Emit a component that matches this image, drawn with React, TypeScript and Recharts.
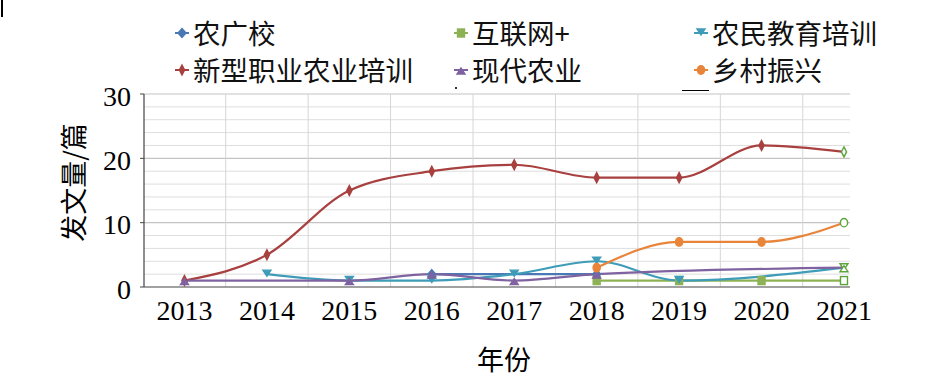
import React from 'react'
import {
  LineChart,
  Line,
  XAxis,
  YAxis,
  ReferenceLine,
} from 'recharts'

// 年份
const YEARS = ['2013', '2014', '2015', '2016', '2017', '2018', '2019', '2020', '2021']

// 各主题发文量（篇），null 表示该年无数据
const NONGGUANGXIAO = [null, null, null, 2, null, 2, null, null, null]
const HULIANWANG = [null, null, null, null, null, 1, 1, 1, 1]
const NONGMIN_PEIXUN = [null, 2, 1, 1, 2, 4, 1, null, 3]
const XINXING_PEIXUN = [1, 5, 15, 18, 19, 17, 17, 22, 21]
const XIANDAI_NONGYE = [1, null, 1, 2, 1, 2, null, null, 3]
const XIANGCUN_ZHENXING = [null, null, null, null, null, 3, 7, 7, 10]

const Y_TICKS = [0, 10, 20, 30]
const Y_MINOR = [2, 4, 6, 8, 12, 14, 16, 18, 22, 24, 26, 28]

const SERIES = [
  { key: 'ngx', name: '农广校', color: '#4a78b5', shape: 'diamond', values: NONGGUANGXIAO },
  { key: 'hlw', name: '互联网+', color: '#8db255', shape: 'square', values: HULIANWANG },
  { key: 'nmpx', name: '农民教育培训', color: '#3e9cb8', shape: 'triDown', values: NONGMIN_PEIXUN },
  { key: 'xxpx', name: '新型职业农业培训', color: '#a8403f', shape: 'thinDiamond', values: XINXING_PEIXUN },
  { key: 'xdny', name: '现代农业', color: '#7f62a0', shape: 'triUp', values: XIANDAI_NONGYE },
  { key: 'xczx', name: '乡村振兴', color: '#e8853a', shape: 'circle', values: XIANGCUN_ZHENXING },
]

const data = YEARS.map((year, i) => {
  const row: Record<string, any> = { idx: i, year }
  SERIES.forEach((s) => {
    row[s.key] = s.values[i]
  })
  return row
})

const X_TICKS = YEARS.map((_, i) => i)
// 年份之间的竖向网格
const X_GRID = YEARS.slice(1).map((_, i) => i + 0.5)

const NUM_FONT = '"Liberation Serif", "Times New Roman", serif'
const CJK_FONT = '"Noto Sans CJK SC", "Noto Sans", sans-serif'
const END_GREEN = '#5ba33b'

function Marker({ shape, cx, cy, fill, stroke }: any) {
  const sw = 1.4
  switch (shape) {
    case 'diamond':
      return <polygon points={`${cx},${cy - 4.5} ${cx + 4},${cy} ${cx},${cy + 4.5} ${cx - 4},${cy}`} fill={fill} stroke={stroke} strokeWidth={sw} />
    case 'thinDiamond':
      return <polygon points={`${cx},${cy - 5} ${cx + 2.6},${cy} ${cx},${cy + 5} ${cx - 2.6},${cy}`} fill={fill} stroke={stroke} strokeWidth={sw} />
    case 'square':
      return <rect x={cx - 3.5} y={cy - 4} width={7} height={8} fill={fill} stroke={stroke} strokeWidth={sw} />
    case 'triDown':
      return <polygon points={`${cx - 4},${cy - 4} ${cx + 4},${cy - 4} ${cx},${cy + 2}`} fill={fill} stroke={stroke} strokeWidth={sw} />
    case 'triUp':
      return <polygon points={`${cx - 4},${cy + 4} ${cx + 4},${cy + 4} ${cx},${cy - 2}`} fill={fill} stroke={stroke} strokeWidth={sw} />
    default:
      return <ellipse cx={cx} cy={cy} rx={3.6} ry={4.2} fill={fill} stroke={stroke} strokeWidth={sw} />
  }
}

function makeDot(shape: string, color: string) {
  return (props: any) => {
    const { cx, cy, index, value } = props
    if (cy == null || value == null || Number.isNaN(cy)) return <g key={`d-${index}`} />
    const last = index === YEARS.length - 1
    return (
      <g key={`d-${index}`}>
        <Marker
          shape={shape}
          cx={cx}
          cy={cy}
          fill={last ? '#ffffff' : color}
          stroke={last ? END_GREEN : color}
        />
      </g>
    )
  }
}

function XTick({ x, y, payload }: any) {
  return (
    <text x={x} y={y + 27} textAnchor='middle' fontFamily={NUM_FONT} fontSize={28} fill='#000'>
      {YEARS[payload.value]}
    </text>
  )
}

function YTick({ x, y, payload }: any) {
  return (
    <text x={x} y={y + 2} textAnchor='end' dominantBaseline='central' fontFamily={NUM_FONT} fontSize={28} fill='#000'>
      {payload.value}
    </text>
  )
}

function LegendBox() {
  return (
    <div
      style={{
        position: 'absolute',
        left: 174,
        top: 14,
        display: 'grid',
        gridTemplateColumns: '279px 240px 240px',
        gridAutoRows: '37px',
        fontFamily: CJK_FONT,
        fontSize: 27.5,
        color: '#111',
      }}
    >
      {SERIES.map((s) => (
        <div key={s.key} style={{ display: 'flex', alignItems: 'center', lineHeight: '37px', whiteSpace: 'nowrap' }}>
          <svg width={16} height={14} style={{ marginRight: 3 }}>
            <line x1={1} y1={7} x2={15} y2={7} stroke={s.color} strokeWidth={2} />
            <Marker shape={s.shape} cx={8} cy={7} fill={s.color} stroke={s.color} />
          </svg>
          <span>{s.name}</span>
        </div>
      ))}
    </div>
  )
}

export default function App() {
  return (
    <div style={{ position: 'relative', width: 945, height: 386, background: '#fff' }}>
      <style>{'body{margin:0}'}</style>
      <LineChart
        width={945}
        height={386}
        data={data}
        margin={{ top: 94, right: 95, bottom: 0, left: 0 }}
      >
        {Y_MINOR.map((v) => (
          <ReferenceLine key={`h${v}`} y={v} stroke='#dedede' strokeWidth={1} />
        ))}
        {Y_TICKS.slice(1).map((v) => (
          <ReferenceLine key={`m${v}`} y={v} stroke='#c4c4c4' strokeWidth={1.2} />
        ))}
        {X_GRID.map((v) => (
          <ReferenceLine key={`v${v}`} x={v} stroke='#d6d6d6' strokeWidth={1} />
        ))}
        <XAxis
          dataKey='idx'
          type='number'
          domain={[-0.491, 8.073]}
          ticks={X_TICKS}
          height={99}
          axisLine={{ stroke: '#444', strokeWidth: 1.2 }}
          tickLine={false}
          tickMargin={0}
          tick={<XTick />}
          interval={0}
          allowDataOverflow
          label={({ viewBox }: any) => (
            <text
              x={viewBox.x + viewBox.width / 2 + 7}
              y={viewBox.y + 71}
              textAnchor='middle'
              dominantBaseline='central'
              fontSize={27}
              fontFamily={CJK_FONT}
              fill='#000'
            >
              年份
            </text>
          )}
        />
        <YAxis
          domain={[0, 30]}
          ticks={Y_TICKS}
          width={144}
          axisLine={{ stroke: '#444', strokeWidth: 1.2 }}
          tickLine={{ stroke: '#444' }}
          tickSize={4}
          tickMargin={9}
          tick={<YTick />}
          label={({ viewBox }: any) => {
            const x = viewBox.x + 72
            const y = viewBox.y + viewBox.height / 2 - 8
            return (
              <text
                x={x}
                y={y}
                transform={`rotate(-90, ${x}, ${y})`}
                textAnchor='middle'
                dominantBaseline='central'
                fontSize={27}
                fontFamily={CJK_FONT}
                fill='#000'
              >
                发文量/篇
              </text>
            )
          }}
        />
        {SERIES.map((s) => (
          <Line
            key={s.key}
            type='monotone'
            dataKey={s.key}
            name={s.name}
            stroke={s.color}
            strokeWidth={2.2}
            connectNulls
            dot={makeDot(s.shape, s.color)}
            activeDot={false}
            isAnimationActive={false}
          />
        ))}
      </LineChart>
      <LegendBox />
      <div style={{ position: 'absolute', left: 1, top: 0, width: 1.5, height: 17, background: '#000' }} />
      <div style={{ position: 'absolute', left: 455, top: 87, width: 1.5, height: 2, background: '#333' }} />
      <div style={{ position: 'absolute', left: 682, top: 90, width: 27, height: 1.2, background: '#000' }} />
    </div>
  )
}
